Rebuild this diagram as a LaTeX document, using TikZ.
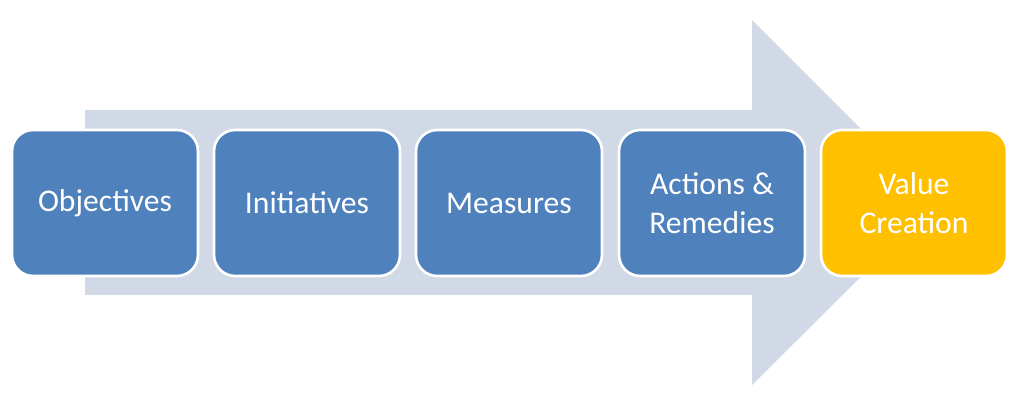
\documentclass[tikz,border=0pt]{standalone}
\usepackage{fontspec}
\setmainfont{Carlito}
\definecolor{stepblue}{HTML}{4F81BD}
\definecolor{stepgold}{HTML}{FFC000}
\definecolor{arrowgrey}{HTML}{D1D8E6}
\begin{document}
\begin{tikzpicture}[x=0.02cm,y=-0.02cm,
  stepbox/.style={rounded corners=12pt,draw=white,line width=1.5pt,fill=stepblue,text=white,
    minimum width=3.72cm,minimum height=2.92cm,align=center,font=\fontsize{18}{22}\selectfont}]
\useasboundingbox (0,0) rectangle (1024,408);
\fill[arrowgrey] (85,110) -- (752,110) -- (752,20) -- (935,203) -- (752,385) -- (752,295) -- (85,295) -- cycle;
\foreach \x/\name/\txt in {105/obj/Objectives,307/ini/Initiatives,509/mea/Measures,712/act/{Actions \&\\Remedies}}
	\node[stepbox] at (\x,203) (\name) {\txt};
\node[stepbox,fill=stepgold] at (914,203) (val) {Value\\Creation};
\end{tikzpicture}
\end{document}
